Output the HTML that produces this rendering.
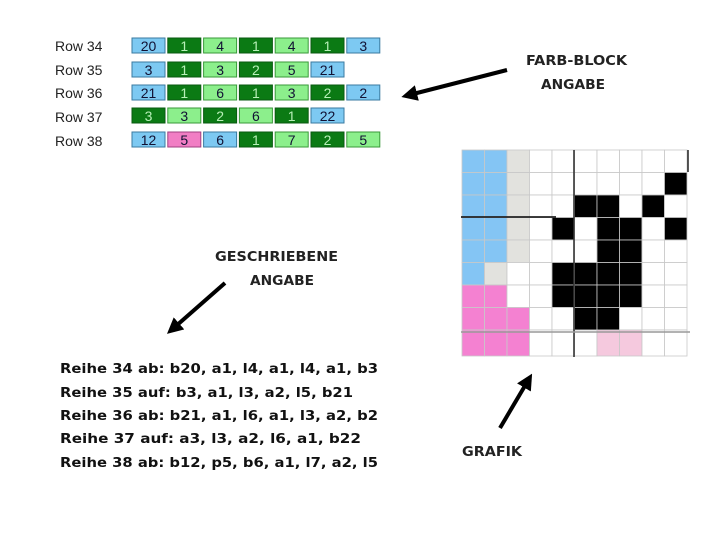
<!DOCTYPE html>
<html><head><meta charset="utf-8"><style>
html,body{margin:0;padding:0;background:#fff;width:720px;height:540px;overflow:hidden}
svg{display:block}
.rl{font-family:"Liberation Sans",sans-serif;font-size:14px;fill:#222}
.cn{font-family:"Liberation Sans",sans-serif;font-size:14px;text-anchor:middle;stroke:none}
.hw{font-family:"DejaVu Sans","Liberation Sans",sans-serif;font-weight:bold;font-size:13px;fill:#111}
.lb{font-family:"DejaVu Sans","Liberation Sans",sans-serif;font-weight:bold;font-size:13px;fill:#222}
</style></head><body>
<svg width="720" height="540" viewBox="0 0 720 540" xmlns="http://www.w3.org/2000/svg">
<defs>
<marker id="ah" markerWidth="4" markerHeight="4" refX="1" refY="2" orient="auto" markerUnits="strokeWidth">
<path d="M0,0 L4,2 L0,4 z" fill="#000"/></marker>
</defs>
<text class="rl" x="55" y="51">Row 34</text>
<text class="rl" x="55" y="75">Row 35</text>
<text class="rl" x="55" y="98">Row 36</text>
<text class="rl" x="55" y="122">Row 37</text>
<text class="rl" x="55" y="146">Row 38</text>
<g id="blocks"></g>
<g id="grid"></g>
<line x1="507" y1="70" x2="413" y2="94" stroke="#000" stroke-width="4" marker-end="url(#ah)"/>
<line x1="225" y1="283" x2="176" y2="326" stroke="#000" stroke-width="4" marker-end="url(#ah)"/>
<line x1="500" y1="428" x2="526" y2="384" stroke="#000" stroke-width="4" marker-end="url(#ah)"/>
<text class="lb" x="526" y="65" textLength="101" lengthAdjust="spacingAndGlyphs">FARB-BLOCK</text>
<text class="lb" x="541" y="89" textLength="64" lengthAdjust="spacingAndGlyphs">ANGABE</text>
<text class="lb" x="215" y="261" textLength="123" lengthAdjust="spacingAndGlyphs">GESCHRIEBENE</text>
<text class="lb" x="250" y="285" textLength="64" lengthAdjust="spacingAndGlyphs">ANGABE</text>
<text class="lb" x="462" y="456" textLength="60" lengthAdjust="spacingAndGlyphs">GRAFIK</text>
<text class="hw" x="60" y="373" textLength="318" lengthAdjust="spacingAndGlyphs">Reihe 34 ab: b20, a1, l4, a1, l4, a1, b3</text>
<text class="hw" x="60" y="397" textLength="293" lengthAdjust="spacingAndGlyphs">Reihe 35 auf: b3, a1, l3, a2, l5, b21</text>
<text class="hw" x="60" y="420" textLength="318" lengthAdjust="spacingAndGlyphs">Reihe 36 ab: b21, a1, l6, a1, l3, a2, b2</text>
<text class="hw" x="60" y="443" textLength="301" lengthAdjust="spacingAndGlyphs">Reihe 37 auf: a3, l3, a2, l6, a1, b22</text>
<text class="hw" x="60" y="467" textLength="318" lengthAdjust="spacingAndGlyphs">Reihe 38 ab: b12, p5, b6, a1, l7, a2, l5</text>
</svg>
<script>
var ns="http://www.w3.org/2000/svg";
var C={b:"#7dc9f2",d:"#0b7a14",l:"#8cef8c",p:"#f17ec4"};
var rows=[
[["b",20],["d",1],["l",4],["d",1],["l",4],["d",1],["b",3]],
[["b",3],["d",1],["l",3],["d",2],["l",5],["b",21]],
[["b",21],["d",1],["l",6],["d",1],["l",3],["d",2],["b",2]],
[["d",3],["l",3],["d",2],["l",6],["d",1],["b",22]],
[["b",12],["p",5],["b",6],["d",1],["l",7],["d",2],["l",5]]];
var tops=[38,62,85,108,132];
var g=document.getElementById("blocks");
rows.forEach(function(r,i){r.forEach(function(c,j){
var x=132+j*35.8,y=tops[i];
var re=document.createElementNS(ns,"rect");re.setAttribute("x",x);re.setAttribute("y",y);re.setAttribute("width",33);re.setAttribute("height",15);
re.setAttribute("fill",C[c[0]]);re.setAttribute("stroke",c[0]=="d"?"#0a5a10":c[0]=="l"?"#3a9a3a":c[0]=="p"?"#a04080":"#3a7aa0");g.appendChild(re);
var t=document.createElementNS(ns,"text");t.setAttribute("class","cn");t.setAttribute("x",x+16.5);t.setAttribute("y",y+13);
t.setAttribute("fill",c[0]=="d"?"#b8f0b8":"#113");t.textContent=c[1];g.appendChild(t);});});
var G=document.getElementById("grid");
var map=[
"bbg.......",
"bbg......k",
"bbg..kk.k.",
"bbg.k.kk.k",
"bbg...kk..",
"bg..kkkk..",
"pp..kkkk..",
"ppp..kk...",
"ppp...ss.."];
var F={b:"#84c5f4",g:"#e2e2de",k:"#000",p:"#f481d1",s:"#f5c9de",".":"#fff"};
var ox=462,oy=150,cs=22.5;
map.forEach(function(r,i){for(var j=0;j<10;j++){var re=document.createElementNS(ns,"rect");
re.setAttribute("x",ox+j*cs);re.setAttribute("y",oy+i*cs);re.setAttribute("width",cs);re.setAttribute("height",i==8?26:cs);
re.setAttribute("fill",F[r[j]]);re.setAttribute("stroke","#c8c8c8");re.setAttribute("stroke-width","0.8");G.appendChild(re);}});
function L(x1,y1,x2,y2,c,w){var l=document.createElementNS(ns,"line");l.setAttribute("x1",x1);l.setAttribute("y1",y1);l.setAttribute("x2",x2);l.setAttribute("y2",y2);l.setAttribute("stroke",c);l.setAttribute("stroke-width",w);G.appendChild(l);}
L(574,150,574,357,"#333",1.6);
L(461,217,556,217,"#222",1.8);
L(461,332,690,332,"#999",1.5);
L(688,150,688,172,"#222",1.5);
</script>
</body></html>
